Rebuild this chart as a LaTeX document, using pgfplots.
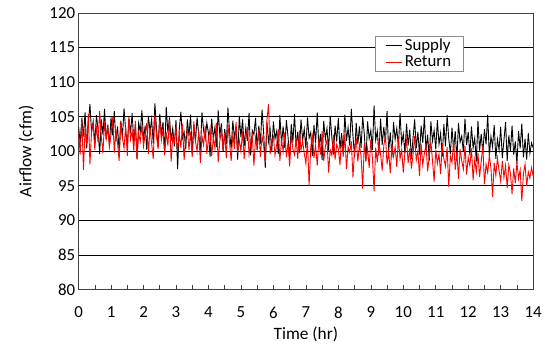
\documentclass[border=0pt]{standalone}
\usepackage{pgfplots}
\pgfplotsset{compat=1.18}
\usepackage{pgfplotstable}
\usepackage{fontspec}
\setmainfont{Carlito}
\pgfplotstableread[row sep=\\]{
s\\
103.5\\ 101.2\\ 104.8\\ 102.1\\ 105.6\\ 100.4\\ 103.9\\ 106.8\\ 102.7\\ 104.3\\ 101.0\\ 105.2\\ 103.1\\ 99.6\\ 104.6\\ 102.4\\ 106.1\\ 101.7\\ 103.8\\ 100.9\\
104.9\\ 102.3\\ 105.8\\ 101.4\\ 103.6\\ 99.9\\ 104.4\\ 102.0\\ 106.2\\ 103.0\\ 100.8\\ 104.7\\ 102.6\\ 105.5\\ 101.3\\ 103.9\\ 98.9\\ 104.1\\ 102.8\\ 105.9\\
101.6\\ 103.7\\ 100.2\\ 105.1\\ 102.9\\ 104.6\\ 101.1\\ 106.9\\ 103.2\\ 100.6\\ 105.4\\ 102.4\\ 104.2\\ 99.8\\ 106.4\\ 102.7\\ 104.9\\ 101.5\\ 103.3\\ 100.7\\
104.5\\ 97.4\\ 103.1\\ 105.7\\ 101.9\\ 102.8\\ 100.3\\ 104.6\\ 102.2\\ 105.3\\ 99.6\\ 103.8\\ 101.4\\ 104.9\\ 102.5\\ 100.1\\ 105.6\\ 103.0\\ 101.8\\ 104.1\\
102.6\\ 99.2\\ 104.7\\ 101.7\\ 103.5\\ 100.6\\ 105.9\\ 102.3\\ 104.0\\ 99.9\\ 103.2\\ 101.0\\ 106.3\\ 102.7\\ 100.4\\ 104.4\\ 101.9\\ 103.6\\ 98.8\\ 105.1\\
102.0\\ 104.6\\ 100.7\\ 103.4\\ 101.5\\ 105.5\\ 99.4\\ 103.0\\ 102.4\\ 104.8\\ 100.2\\ 103.7\\ 101.1\\ 106.0\\ 102.6\\ 97.6\\ 104.2\\ 101.4\\ 103.1\\ 100.0\\
104.3\\ 101.8\\ 102.9\\ 99.6\\ 105.2\\ 101.0\\ 103.6\\ 100.5\\ 104.5\\ 102.1\\ 98.9\\ 103.9\\ 101.3\\ 105.4\\ 100.7\\ 102.8\\ 99.8\\ 104.6\\ 101.6\\ 103.2\\
100.4\\ 104.9\\ 101.9\\ 102.7\\ 99.3\\ 103.8\\ 101.2\\ 105.6\\ 100.6\\ 102.5\\ 98.7\\ 104.4\\ 101.7\\ 103.3\\ 100.1\\ 105.1\\ 102.0\\ 99.5\\ 103.7\\ 101.4\\
104.8\\ 100.3\\ 102.6\\ 99.9\\ 105.3\\ 101.5\\ 103.4\\ 100.8\\ 106.1\\ 102.2\\ 99.2\\ 104.1\\ 101.0\\ 103.6\\ 100.5\\ 105.0\\ 102.4\\ 98.6\\ 104.3\\ 101.8\\
103.0\\ 100.2\\ 106.6\\ 101.6\\ 102.9\\ 99.4\\ 104.7\\ 100.9\\ 103.5\\ 101.3\\ 105.8\\ 100.0\\ 102.7\\ 99.1\\ 104.2\\ 101.7\\ 103.3\\ 100.6\\ 105.5\\ 101.1\\
102.5\\ 99.7\\ 104.0\\ 100.8\\ 103.1\\ 98.9\\ 101.9\\ 104.6\\ 100.4\\ 102.8\\ 99.5\\ 103.7\\ 101.2\\ 105.0\\ 100.1\\ 102.4\\ 98.6\\ 104.3\\ 101.5\\ 103.0\\
100.3\\ 104.5\\ 101.0\\ 102.6\\ 99.2\\ 103.9\\ 100.7\\ 105.2\\ 101.8\\ 99.6\\ 103.4\\ 100.2\\ 102.9\\ 98.7\\ 104.1\\ 101.3\\ 102.2\\ 99.9\\ 104.7\\ 100.9\\
102.8\\ 99.4\\ 103.6\\ 100.5\\ 101.9\\ 98.5\\ 104.4\\ 100.1\\ 102.5\\ 99.7\\ 103.2\\ 101.0\\ 105.3\\ 99.3\\ 102.1\\ 100.6\\ 103.8\\ 98.9\\ 101.7\\ 100.2\\
103.5\\ 99.0\\ 101.6\\ 104.2\\ 98.6\\ 102.3\\ 100.0\\ 103.7\\ 99.5\\ 101.4\\ 98.2\\ 102.9\\ 100.4\\ 104.0\\ 99.1\\ 101.8\\ 98.8\\ 102.6\\ 99.7\\ 101.2\\
100.5\\
}\supply
\pgfplotstableread[row sep=\\]{
r\\
102.8\\ 99.5\\ 104.6\\ 97.3\\ 103.2\\ 101.0\\ 105.4\\ 98.1\\ 102.9\\ 104.0\\ 100.2\\ 103.7\\ 101.3\\ 105.8\\ 102.1\\ 99.7\\ 104.3\\ 101.8\\ 103.5\\ 100.6\\
102.4\\ 104.9\\ 99.8\\ 103.1\\ 101.2\\ 98.6\\ 104.2\\ 102.0\\ 100.4\\ 103.6\\ 99.3\\ 105.0\\ 101.7\\ 102.9\\ 100.1\\ 104.4\\ 98.8\\ 102.6\\ 101.4\\ 103.8\\
100.7\\ 102.5\\ 104.1\\ 99.6\\ 103.4\\ 101.1\\ 98.9\\ 105.3\\ 102.2\\ 100.3\\ 104.5\\ 101.6\\ 103.2\\ 99.4\\ 102.7\\ 100.8\\ 104.6\\ 98.5\\ 102.1\\ 101.3\\
103.6\\ 99.9\\ 102.4\\ 100.5\\ 104.0\\ 98.7\\ 101.9\\ 103.1\\ 100.2\\ 102.8\\ 99.1\\ 104.3\\ 101.4\\ 100.0\\ 103.0\\ 98.3\\ 102.2\\ 100.9\\ 103.7\\ 99.6\\
101.8\\ 103.3\\ 99.3\\ 102.0\\ 100.4\\ 104.1\\ 98.4\\ 101.5\\ 103.0\\ 100.1\\ 102.6\\ 99.0\\ 103.9\\ 101.2\\ 98.6\\ 102.5\\ 100.3\\ 104.2\\ 99.8\\ 101.6\\
100.0\\ 102.9\\ 98.9\\ 101.7\\ 103.5\\ 99.5\\ 101.0\\ 102.3\\ 97.9\\ 101.9\\ 100.4\\ 103.1\\ 99.2\\ 102.2\\ 100.8\\ 98.4\\ 104.5\\ 106.8\\ 99.6\\ 101.3\\
102.1\\ 99.4\\ 100.9\\ 103.2\\ 98.6\\ 101.6\\ 100.0\\ 102.7\\ 99.1\\ 101.2\\ 97.8\\ 102.4\\ 100.3\\ 99.5\\ 101.8\\ 98.9\\ 103.0\\ 100.1\\ 101.5\\ 99.7\\
98.2\\ 101.4\\ 95.0\\ 100.6\\ 102.2\\ 99.0\\ 100.9\\ 97.9\\ 101.8\\ 99.5\\ 102.9\\ 98.6\\ 100.7\\ 101.6\\ 96.9\\ 100.2\\ 99.4\\ 102.4\\ 98.8\\ 101.0\\
100.3\\ 98.0\\ 101.9\\ 99.2\\ 102.5\\ 97.4\\ 100.6\\ 99.8\\ 101.4\\ 96.2\\ 100.1\\ 102.0\\ 98.5\\ 100.9\\ 99.3\\ 94.6\\ 101.2\\ 98.8\\ 100.4\\ 97.6\\
101.7\\ 99.0\\ 94.2\\ 100.5\\ 98.4\\ 101.3\\ 99.6\\ 97.2\\ 100.8\\ 102.3\\ 98.1\\ 99.9\\ 96.8\\ 101.0\\ 99.2\\ 100.6\\ 97.7\\ 102.0\\ 98.9\\ 100.2\\
96.9\\ 99.8\\ 101.6\\ 98.3\\ 100.4\\ 97.5\\ 99.5\\ 102.2\\ 98.7\\ 100.0\\ 96.4\\ 101.1\\ 98.0\\ 99.7\\ 100.9\\ 97.1\\ 99.3\\ 101.4\\ 98.6\\ 95.6\\
100.2\\ 98.2\\ 99.6\\ 96.7\\ 101.0\\ 98.9\\ 97.8\\ 100.6\\ 94.8\\ 99.3\\ 98.4\\ 101.5\\ 97.3\\ 99.9\\ 96.0\\ 100.3\\ 98.6\\ 97.4\\ 100.8\\ 96.6\\
99.1\\ 97.9\\ 100.4\\ 95.8\\ 98.8\\ 97.0\\ 99.7\\ 96.3\\ 98.5\\ 100.9\\ 95.2\\ 98.1\\ 96.9\\ 99.4\\ 97.6\\ 93.4\\ 98.3\\ 96.5\\ 99.0\\ 97.2\\
95.6\\ 98.6\\ 96.2\\ 97.9\\ 94.7\\ 98.0\\ 96.8\\ 93.8\\ 97.5\\ 95.4\\ 98.4\\ 96.0\\ 97.3\\ 92.8\\ 96.7\\ 98.1\\ 95.0\\ 97.0\\ 96.1\\ 97.6\\
96.4\\
}\retn
\begin{document}
\begin{tikzpicture}
\begin{axis}[
  scale only axis,
  width=457bp, height=278bp,
  xmin=0, xmax=14, ymin=80, ymax=120,
  xtick distance=1, ytick distance=5,
  minor x tick num=1,
  tick align=inside,
  xtick pos=bottom, ytick pos=left,
  major tick length=4bp, minor tick length=4bp,
  ytick style={draw=none},
  ymajorgrids,
  grid style={black, line width=0.7pt},
  axis line style={black!75, line width=0.7pt},
  every tick/.style={black!75, line width=0.6pt},
  /pgf/number format/assume math mode=true,
  ticklabel style={font=\fontsize{17}{19}\selectfont},
  xticklabel style={yshift=-14bp},
  label style={font=\fontsize{17.5}{20}\selectfont},
  xlabel={Time (hr)}, ylabel={Airflow (cfm)},
  xlabel style={yshift=-2bp},
  ylabel style={yshift=9bp},
  legend style={at={(rel axis cs:0.652,0.918)}, anchor=north west,
    draw=black!45, fill=white, font=\fontsize{17}{18}\selectfont,
    inner xsep=10bp, inner ysep=1bp, row sep=0bp},
  legend cell align=left,
  legend image post style={line width=0.8pt},
  legend image code/.code={\draw[#1] (0cm,0cm) -- (0.6cm,0cm);},
]
\addplot[black, line width=0.9pt] table[x expr=\coordindex*0.05, y=s] {\supply};
\addlegendentry{Supply}
\addplot[red, line width=0.9pt] table[x expr=\coordindex*0.05, y=r] {\retn};
\addlegendentry{Return}
\end{axis}
\path ([shift={(-79bp,-55bp)}]current axis.south west) rectangle ([shift={(9bp,13bp)}]current axis.north east);
\end{tikzpicture}
\end{document}
